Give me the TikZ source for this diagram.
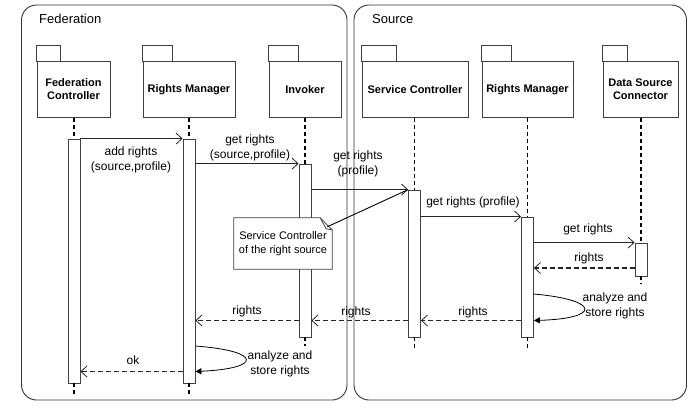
\documentclass[tikz,border=0pt]{standalone}
\usepackage{fontspec}
\setmainfont{Liberation Sans}
\usetikzlibrary{arrows.meta,calc}
\begin{document}
\begin{tikzpicture}[x=1pt,y=-1pt,
  frame/.style={draw=black!80, line width=0.9pt, rounded corners=15pt},
  pkg/.style={draw=black!75, line width=0.8pt, fill=white, minimum height=56pt, align=center, font=\fontsize{11}{13}\selectfont\bfseries, inner sep=0pt},
  tabline/.style={draw=black!75, line width=0.8pt},
  bar/.style={draw=black!75, line width=0.8pt, fill=white, minimum width=12pt, inner sep=0pt},
  life/.style={draw=black, line width=1.4pt, dash pattern=on 4pt off 3pt},
  msg/.style={draw=black!85, line width=0.8pt, -{Straight Barb[length=6pt,width=11pt,line width=0.8pt]}},
  ret/.style={msg, dash pattern=on 5pt off 3pt, line width=1.1pt},
  selfcall/.style={draw=black, line width=0.8pt, -{Triangle[length=6pt,width=6pt]}},
  lbl/.style={font=\fontsize{12}{15}\selectfont, align=center, inner sep=0pt},
  ttl/.style={font=\fontsize{13}{15}\selectfont, anchor=west, inner sep=0pt},
  notestyle/.style={draw=black!75, line width=0.8pt, fill=white},
]
\useasboundingbox (0,0) rectangle (688,416);
\fill[white] (0,0) rectangle (688,416);

% frames
\draw[frame] (21.5,5) rectangle (347,400);
\draw[frame] (354,5) rectangle (686.5,400);
\node[ttl] (fedt) at (39,19) {Federation};
\node[ttl] (srct) at (372,19) {Source};

% packages (lifeline heads)
\node[pkg, minimum width=73pt] (fc) at (73.5,89.5) {Federation\\Controller};
\node[pkg, minimum width=92pt] (rm) at (189,89.5) {Rights Manager};
\node[pkg, minimum width=72pt] (inv) at (305,89.5) {Invoker};
\node[pkg, minimum width=106pt] (sc) at (415,89.5) {Service Controller};
\node[pkg, minimum width=91pt] (rms) at (527.5,89.5) {Rights Manager};
\node[pkg, minimum width=75pt] (dsc) at (640.5,89.5) {Data Source\\Connector};
\draw[tabline] (fc.north west) rectangle ++(24,-16);
\draw[tabline] (rm.north west) rectangle ++(30,-16);
\draw[tabline] (inv.north west) rectangle ++(30,-16);
\draw[tabline] (sc.north west) rectangle ++(35,-16);
\draw[tabline] (rms.north west) rectangle ++(30,-16);
\draw[tabline] (dsc.north west) rectangle ++(25,-16);

% activation bars
\node[bar, minimum height=244pt] (fcbar) at (74,261) {};
\node[bar, minimum height=244pt] (rmbar) at (189,261) {};
\node[bar, minimum height=173pt] (invbar) at (305,250.5) {};
\node[bar, minimum height=147pt] (scbar) at (414.5,263.5) {};
\node[bar, minimum height=120pt] (rmsbar) at (527.5,277) {};
\node[bar, minimum height=33pt] (dscbar) at (641,259.5) {};

% lifeline ends
\coordinate (fcend) at (74,394);
\coordinate (rmend) at (189,394);
\coordinate (invend) at (305,346);
\coordinate (scend) at (414.5,348);
\coordinate (rmsend) at (527.5,348);
\coordinate (dscend) at (641,284);

% lifelines
\draw[life] (fcbar.north |- fc.south) -- (fcbar.north);
\draw[life] (fcbar.south) -- (fcend);
\draw[life] (rmbar.north |- rm.south) -- (rmbar.north);
\draw[life] (rmbar.south) -- (rmend);
\draw[life] (invbar.north |- inv.south) -- (invbar.north);
\draw[life] (invbar.south) -- (invend);
\draw[life] (scbar.north |- sc.south) -- (scbar.north);
\draw[life] (scbar.south) -- (scend);
\draw[life] (rmsbar.north |- rms.south) -- (rmsbar.north);
\draw[life] (rmsbar.south) -- (rmsend);
\draw[life] (dscbar.north |- dsc.south) -- (dscbar.north);
\draw[life] (dscbar.south) -- (dscend);

% y levels
\coordinate (yr1) at (0,268);
\coordinate (ys1a) at (0,294);
\coordinate (ys1b) at (0,320.5);
\coordinate (ys2a) at (0,346);
\coordinate (ys2b) at (0,371.5);

% calls
\draw[msg] (fcbar.north east) -- (rmbar.north west);
\draw[msg] (rmbar.east |- invbar.north) -- (invbar.north west);
\draw[msg] (invbar.east |- scbar.north) -- (scbar.north west);
\draw[msg] (scbar.east |- rmsbar.north) -- (rmsbar.north west);
\draw[msg] (rmsbar.east |- dscbar.north) -- (dscbar.north west);

% returns
\draw[ret] (dscbar.west |- yr1) -- (rmsbar.east |- yr1);
\draw[selfcall] (rmsbar.east |- ys1a) .. controls +(67,6) and +(67,-2) .. (rmsbar.east |- ys1b);
\draw[ret] (rmsbar.west |- ys1b) -- (scbar.east |- ys1b);
\draw[ret] (scbar.west |- ys1b) -- (invbar.east |- ys1b);
\draw[ret] (invbar.west |- ys1b) -- (rmbar.east |- ys1b);
\draw[selfcall] (rmbar.east |- ys2a) .. controls +(67,5) and +(67,-3) .. (rmbar.east |- ys2b);
\draw[ret] (rmbar.west |- ys2b) -- (fcbar.east |- ys2b);

% note
\node[inner sep=0pt, minimum width=98pt, minimum height=51pt, align=center,
      font=\fontsize{11}{14}\selectfont] (note) at (283,243.5) {};
\draw[notestyle] (note.south west) -- (note.north west) -- ($(note.north east)+(-12,0)$)
  -- ($(note.north east)+(0,12)$) -- (note.south east) -- cycle;
\draw[tabline] ($(note.north east)+(-12,0)$) -- ($(note.north east)+(-6,11)$) -- ($(note.north east)+(0,12)$);
\node[inner sep=0pt, align=center, font=\fontsize{11}{14}\selectfont] (notetext) at (note.center) {Service Controller\\of the right source};
\coordinate (notept) at ($(note.north east)+(-5,9)$);
\draw[draw=black, line width=0.9pt] (notept) -- (scbar.north west);

% labels
\node[lbl] (l1) at (131,160) {add rights\\(source,profile)};
\node[lbl] (l2) at (250,148) {get rights\\(source,profile)};
\node[lbl] (l3) at (358,164) {get rights\\(profile)};
\node[lbl] (l4) at (473,202) {get rights (profile)};
\node[lbl] (l5) at (588,229) {get rights};
\node[lbl] (l6) at (589,258) {rights};
\node[lbl] (l7) at (615,306) {analyze and\\store rights};
\node[lbl] (l8) at (473,312) {rights};
\node[lbl] (l9) at (356,312) {rights};
\node[lbl] (l10) at (247,311) {rights};
\node[lbl] (l11) at (280,364) {analyze and\\store rights};
\node[lbl] (l12) at (133,360) {ok};
\end{tikzpicture}
\end{document}
